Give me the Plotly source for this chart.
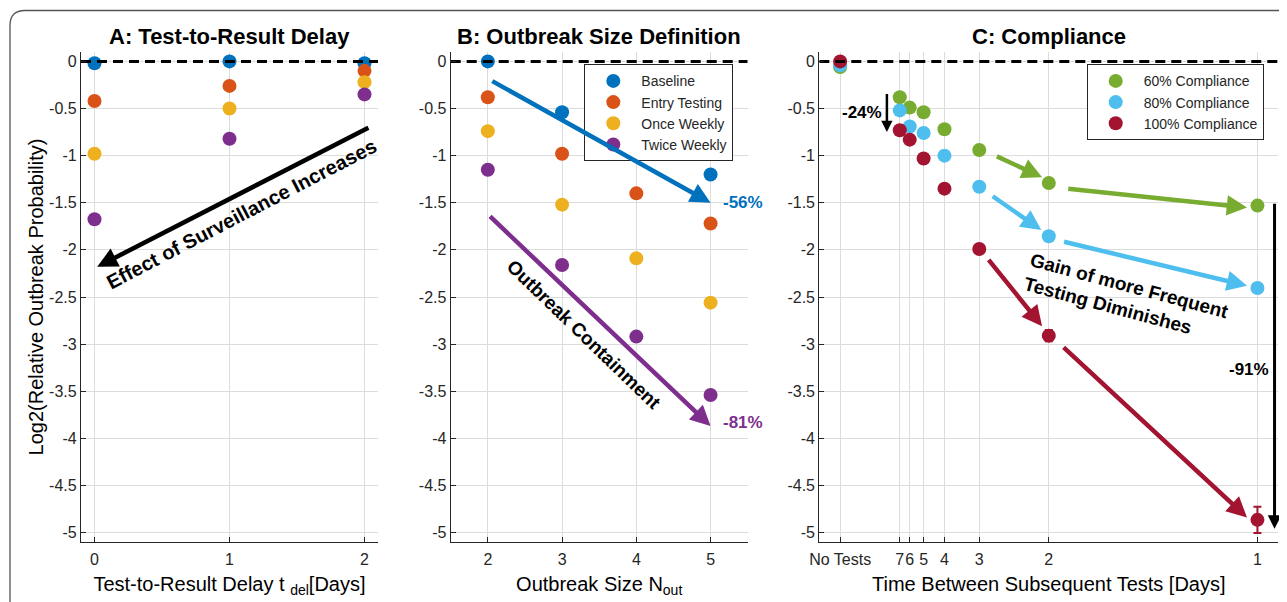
import plotly.graph_objects as go

OFF = 8  # page body margin in the browser
W, H = 1287 - OFF, 602 - OFF

# ---------------- data ----------------
series_names = ["Baseline", "Entry Testing", "Once Weekly", "Twice Weekly"]
series_colors = ["#0072BD", "#D95319", "#EDB120", "#7E2F8E"]

delay_days = [0, 1, 2]
delay_baseline = [-0.02, 0.0, -0.02]
delay_entry = [-0.42, -0.26, -0.10]
delay_once = [-0.98, -0.50, -0.22]
delay_twice = [-1.675, -0.82, -0.35]

size_nout = [2, 3, 4, 5]
size_baseline = [0.0, -0.54, -0.92, -1.20]
size_entry = [-0.38, -0.98, -1.40, -1.72]
size_once = [-0.74, -1.52, -2.09, -2.56]
size_twice = [-1.15, -2.16, -2.92, -3.54]

comp_names = ["60% Compliance", "80% Compliance", "100% Compliance"]
comp_colors = ["#77AC30", "#4DBEEE", "#A2142F"]
test_interval_labels = ["No Tests", "7", "6", "5", "4", "3", "2", "1"]
test_frequency = [0, 1/7, 1/6, 1/5, 1/4, 1/3, 1/2, 1]  # 1 / days between tests
comp_60 = [-0.06, -0.38, -0.49, -0.54, -0.72, -0.94, -1.29, -1.53]
comp_80 = [-0.04, -0.52, -0.69, -0.76, -1.00, -1.33, -1.855, -2.405]
comp_100 = [0.0, -0.73, -0.83, -1.03, -1.35, -1.99, -2.91, -4.865]
comp_100_err = [0.0, 0.0, 0.0, 0.0, 0.0, 0.0, 0.06, 0.14]

ytick_vals = [0, -0.5, -1, -1.5, -2, -2.5, -3, -3.5, -4, -4.5, -5]
ytick_text = ["0", "-0.5", "-1", "-1.5", "-2", "-2.5", "-3", "-3.5", "-4", "-4.5", "-5"]

# ---------------- layout helpers ----------------
def px_x(p):
    return (p - OFF) / W

def px_y(p):
    return 1 - (p - OFF) / H

y_dom = [px_y(542), px_y(52)]
doms = [
    [px_x(81), px_x(378)],
    [px_x(450.7), px_x(747.7)],
    [px_x(819.3), px_x(1278.3)],
]

FONT = "Liberation Sans, Arial, Helvetica, sans-serif"
TXT = "#262626"
GRID = "#dcdcdc"

fig = go.Figure()

# Panel A
for name, col, ys in zip(series_names, series_colors,
                         [delay_baseline, delay_entry, delay_once, delay_twice]):
    fig.add_trace(go.Scatter(x=delay_days, y=ys, mode="markers", name=name,
                             marker=dict(size=14, color=col), showlegend=False,
                             xaxis="x", yaxis="y"))
# Panel B
for name, col, ys in zip(series_names, series_colors,
                         [size_baseline, size_entry, size_once, size_twice]):
    fig.add_trace(go.Scatter(x=size_nout, y=ys, mode="markers", name=name,
                             marker=dict(size=14, color=col), legend="legend",
                             xaxis="x2", yaxis="y2"))
# Panel C
for i, (name, col, ys) in enumerate(zip(comp_names, comp_colors, [comp_60, comp_80, comp_100])):
    kw = {}
    if i == 2:
        kw["error_y"] = dict(type="data", array=comp_100_err, color=col, thickness=2, width=4)
    fig.add_trace(go.Scatter(x=test_frequency, y=ys, mode="markers", name=name,
                             marker=dict(size=14, color=col), legend="legend2",
                             xaxis="x3", yaxis="y3", **kw))

# zero dashed reference lines (on top)
xranges = [[-0.1, 2.1], [1.5, 5.5], [-0.05, 1.05]]
for k, xr in enumerate(xranges):
    sfx = "" if k == 0 else str(k + 1)
    fig.add_trace(go.Scatter(x=xr, y=[0, 0], mode="lines",
                             line=dict(color="black", width=3, dash="10px,6px"),
                             showlegend=False, hoverinfo="skip",
                             xaxis="x" + sfx, yaxis="y" + sfx))

axis_common = dict(showgrid=True, gridcolor=GRID, gridwidth=1, zeroline=False,
                   showline=True, linecolor=TXT, linewidth=1.2, ticks="inside",
                   ticklen=5, tickcolor=TXT, mirror=False, tickangle=0,
                   tickfont=dict(family=FONT, size=16, color=TXT))

layout = dict(
    width=W, height=H, margin=dict(l=0, r=0, t=0, b=0),
    paper_bgcolor="white", plot_bgcolor="white",
    font=dict(family=FONT, color=TXT),
)

xtitles = ["Test-to-Result Delay t <sub>del</sub>[Days]", "Outbreak Size N<sub>out</sub>",
           "Time Between Subsequent Tests [Days]"]
for k in range(3):
    sfx = "" if k == 0 else str(k + 1)
    xa = dict(axis_common, domain=doms[k], range=xranges[k], anchor="y" + sfx,
              ticklabelstandoff=3,
              title=dict(text=xtitles[k], font=dict(family=FONT, size=20, color="black"), standoff=9),
              automargin=False)
    if k == 0:
        xa.update(tickvals=delay_days)
    elif k == 1:
        xa.update(tickvals=size_nout)
    else:
        xa.update(tickvals=test_frequency, ticktext=test_interval_labels)
    ya = dict(axis_common, domain=y_dom, range=[-5.1, 0.1], anchor="x" + sfx,
              tickvals=ytick_vals, ticktext=ytick_text, automargin=False)
    if k == 0:
        ya["title"] = dict(text="Log2(Relative Outbreak Probability)",
                           font=dict(family=FONT, size=20, color="black"), standoff=0)
    layout["xaxis" + sfx] = xa
    layout["yaxis" + sfx] = ya

legend_common = dict(xanchor="left", yanchor="top", bgcolor="white", bordercolor="#262626",
                     borderwidth=1, font=dict(family=FONT, size=14, color=TXT),
                     tracegroupgap=0, itemwidth=46)
layout["legend"] = dict(legend_common, x=px_x(584.3), y=px_y(64.3))
layout["legend2"] = dict(legend_common, x=px_x(1086.7), y=px_y(64.3))
fig.update_layout(**layout)

# Panel titles
titles = ["A: Test-to-Result Delay", "B: Outbreak Size Definition", "C: Compliance"]
for k, t in enumerate(titles):
    fig.add_annotation(text="<b>%s</b>" % t, xref="paper", yref="paper",
                       x=(doms[k][0] + doms[k][1]) / 2, y=px_y(36), xanchor="center", yanchor="middle",
                       showarrow=False, font=dict(family=FONT, size=22, color="black"))

def arrow(xr, yr, x0, y0, x1, y1, color, width=4, head=2, size=0.9):
    fig.add_annotation(x=x1, y=y1, ax=x0, ay=y0, xref=xr, yref=yr, axref=xr, ayref=yr,
                       showarrow=True, arrowhead=head, arrowsize=size, arrowwidth=width,
                       arrowcolor=color, text="")

def label(xr, yr, x, y, text, color="black", size=17, angle=0, xanchor="center", align="center"):
    fig.add_annotation(x=x, y=y, xref=xr, yref=yr, text="<b>%s</b>" % text, showarrow=False,
                       textangle=angle, xanchor=xanchor, yanchor="middle", align=align,
                       font=dict(family=FONT, size=size, color=color))

# Panel A annotations
arrow("x", "y", 2.04, -0.695, 0.02, -2.18, "black", width=4.5)
label("x", "y", 1.09, -1.62, "Effect of Surveillance Increases", size=20, angle=-27.5)

# Panel B annotations
arrow("x2", "y2", 2.04, -0.20, 5.0, -1.50, "#0072BD", width=4.5)
label("x2", "y2", 5.14, -1.50, "-56%", color="#0072BD", xanchor="left")
arrow("x2", "y2", 2.01, -1.63, 5.0, -3.87, "#7E2F8E", width=4.5)
label("x2", "y2", 5.14, -3.83, "-81%", color="#7E2F8E", xanchor="left")
label("x2", "y2", 3.29, -2.90, "Outbreak Containment", size=19, angle=44)

# Panel C annotations
g, b, r = comp_colors
arrow("x3", "y3", 0.372, -1.00, 0.484, -1.23, g, width=4.5)
arrow("x3", "y3", 0.543, -1.35, 0.975, -1.55, g, width=4.5)
arrow("x3", "y3", 0.362, -1.42, 0.482, -1.79, b, width=4.5)
arrow("x3", "y3", 0.533, -1.91, 0.975, -2.38, b, width=4.5)
arrow("x3", "y3", 0.353, -2.09, 0.484, -2.81, r, width=4.5)
arrow("x3", "y3", 0.532, -3.02, 0.975, -4.84, r, width=4.5)
arrow("x3", "y3", 0.112, -0.33, 0.112, -0.75, "black", width=2.5)
label("x3", "y3", 0.104, -0.54, "-24%", xanchor="right")
arrow("x3", "y3", 1.041, -1.495, 1.041, -4.96, "black", width=3)
label("x3", "y3", 1.032, -3.27, "-91%", xanchor="right")
label("x3", "y3", 0.686, -2.51, "Gain of more Frequent<br>Testing Diminishes", size=19, angle=15,
      align="left")

# outer rounded frame (partial, cropped figure border)
x0 = px_x(10); xc = px_x(25)
yt = px_y(10.5); yc = px_y(25.5)
fig.add_shape(type="path", xref="paper", yref="paper",
              path=f"M {x0},-0.05 L {x0},{yc} Q {x0},{yt} {xc},{yt} L 1.05,{yt}",
              line=dict(color="#555555", width=1.3), layer="below")

fig.write_html("out.html")
